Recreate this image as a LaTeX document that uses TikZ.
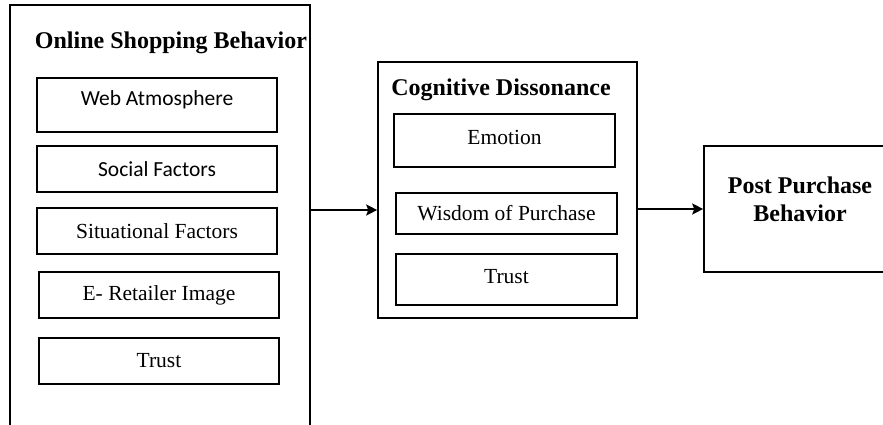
\documentclass[tikz,border=0pt]{standalone}
\usepackage{fontspec}
\setmainfont{Liberation Serif}
\newfontfamily\calibri{Carlito}
\usetikzlibrary{arrows.meta}
\tikzset{
  frame/.style={draw, line width=1.6pt, inner sep=0pt},
  ibox/.style={frame, minimum width=#1},
  ibox/.default=240pt,
  ttl/.style={font=\fontsize{24}{28}\selectfont\bfseries, inner sep=0pt, align=center},
  lbl/.style={font=\fontsize{21.5}{25}\selectfont, inner sep=0pt},
  slbl/.style={font=\fontsize{21.5}{25}\selectfont\calibri, inner sep=0pt},
  arr/.style={line width=1.6pt, -{Stealth[length=11pt,width=11pt,inset=2pt]}}
}
\begin{document}
\begin{tikzpicture}[x=1pt,y=-1pt]
\useasboundingbox (0,0) rectangle (883,425);
\clip (0,0) rectangle (883,425);
% outer boxes
\node[frame, minimum width=300pt, minimum height=450pt] (osb) at (160,230) {};
\node[ttl] (osbt) at (171,43) {Online Shopping Behavior};
\node[frame, minimum width=259pt, minimum height=256pt] (cd) at (507.5,190) {};
\node[ttl] (cdt) at (501,90) {Cognitive Dissonance};
\node[frame, minimum width=192pt, minimum height=126pt] (ppb) at (800,209) {};
\node[ttl] (ppbt) at (800,199) {Post Purchase\\Behavior};
% left inner boxes
\node[ibox, minimum height=54pt] (web) at (157,105) {};
\node[slbl] (webt) at (157,100) {Web Atmosphere};
\node[ibox, minimum height=46pt, slbl] (soc) at (157,169) {Social Factors};
\node[ibox, minimum height=46pt, lbl] (sit) at (157,231) {Situational Factors};
\node[ibox, minimum height=46pt, lbl] (ret) at (159,295) {E- Retailer Image};
\node[ibox, minimum height=46pt, lbl] (tr1) at (159,361) {Trust};
% middle inner boxes
\node[ibox=221pt, minimum height=53pt] (emo) at (504.5,140.5) {};
\node[lbl] (emot) at (504.5,137) {Emotion};
\node[ibox=221pt, minimum height=41pt, lbl] (wis) at (506.5,213.5) {Wisdom of Purchase};
\node[ibox=221pt, minimum height=51pt] (tr2) at (506.5,279.5) {};
\node[lbl] (tr2t) at (506.5,277) {Trust};
% arrows
\coordinate (a1) at (0,210);
\draw[arr] (osb.east |- a1) -- (cd.west |- a1);
\draw[arr] (cd.east |- ppb.west) -- (ppb.west);
\end{tikzpicture}
\end{document}
